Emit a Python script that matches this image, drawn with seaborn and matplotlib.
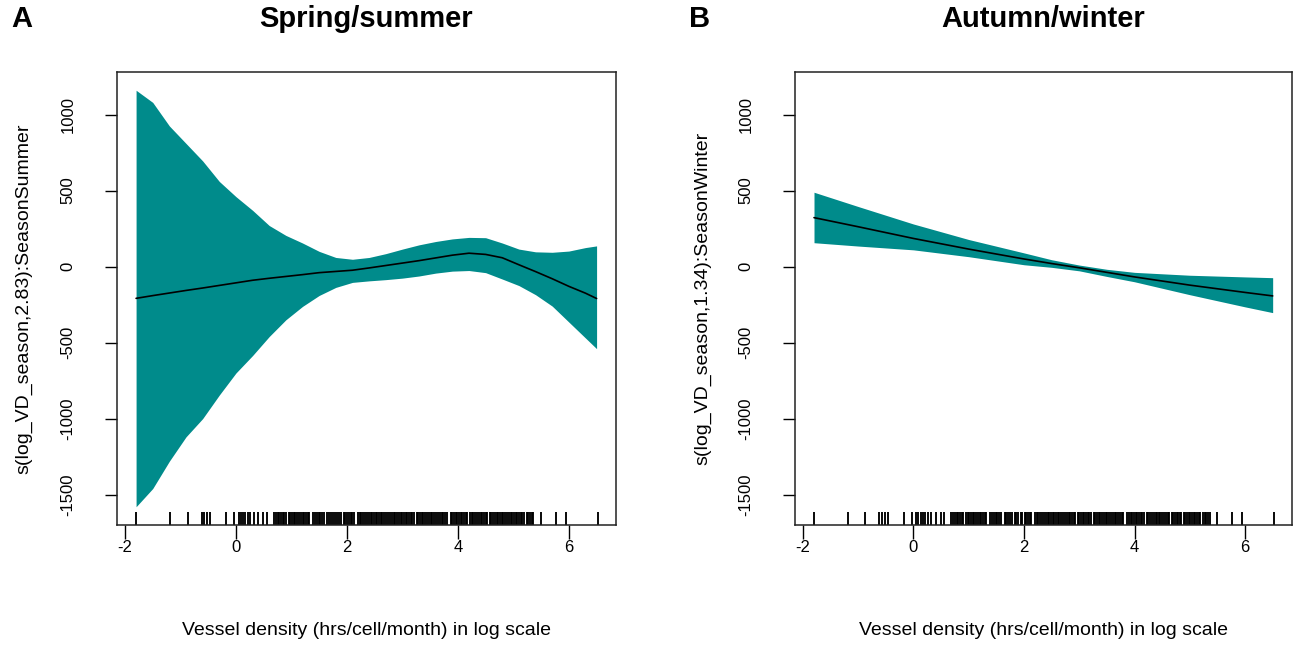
import seaborn as sns
import pandas as pd
import matplotlib.pyplot as plt

# ---------------- data ----------------

# spring/summer smooth (fit and +-2 se band)
x_summer = [-1.8, -1.5, -1.2, -0.9, -0.6, -0.3, 0.0, 0.3, 0.6, 0.9, 1.2, 1.5, 1.8, 2.1, 2.4,
            2.7, 3.0, 3.3, 3.6, 3.9, 4.2, 4.5, 4.8, 5.1, 5.4, 5.7, 6.0, 6.3, 6.5]
fit_summer = [-209, -191, -174, -157, -141, -124, -107, -90, -77, -65, -53, -40, -32, -24, -9,
              7, 23, 39, 57, 75, 88, 80, 58, 12, -33, -80, -130, -175, -210]
upper_summer = [1160, 1080, 925, 810, 695, 560, 460, 370, 270, 205, 155, 100, 60, 48, 60,
                85, 115, 143, 165, 182, 192, 190, 155, 115, 97, 94, 102, 125, 136]
lower_summer = [-1580, -1460, -1280, -1120, -1000, -845, -700, -585, -460, -350, -262, -190, -137, -104, -94,
                -86, -76, -62, -43, -30, -26, -40, -82, -125, -185, -260, -365, -470, -540]

# autumn/winter smooth
x_winter = [-1.8, -1.0, 0.0, 1.0, 2.0, 2.5, 3.0, 3.5, 4.0, 5.0, 6.0, 6.5]
fit_winter = [322, 262, 185, 115, 50, 20, -8, -38, -68, -122, -170, -193]
upper_winter = [489, 395, 280, 178, 90, 45, 10, -18, -38, -57, -68, -73]
lower_winter = [157, 135, 110, 65, 12, -5, -28, -65, -100, -185, -265, -303]

# observed log vessel density (rug)
rug_x = [-1.80, -1.19, -0.87, -0.62, -0.57, -0.52, -0.47, -0.18, -0.03, 0.05, 0.09, 0.13, 0.17,
         0.21, 0.26, 0.32, 0.40, 0.49, 0.56, 0.68, 0.72, 0.75, 0.78, 0.81, 0.84, 0.87, 0.90,
         0.95, 0.98, 1.01, 1.04, 1.07, 1.10, 1.14, 1.17, 1.20, 1.22, 1.26, 1.29, 1.32, 1.38,
         1.43, 1.46, 1.49, 1.52, 1.55, 1.58, 1.65, 1.68, 1.71, 1.75, 1.78, 1.83, 1.86, 1.89,
         1.94, 1.97, 2.01, 2.04, 2.07, 2.10, 2.13, 2.20, 2.23, 2.26, 2.29, 2.32,
         2.37, 2.40, 2.43, 2.46, 2.49, 2.52, 2.55, 2.58, 2.61, 2.64, 2.67, 2.70, 2.74, 2.77,
         2.81, 2.84, 2.87, 2.90, 2.93, 2.97, 3.00, 3.03, 3.06, 3.09, 3.12, 3.15, 3.18, 3.21,
         3.26, 3.29, 3.32, 3.35, 3.38, 3.41, 3.44, 3.48, 3.51, 3.54, 3.57, 3.61, 3.64, 3.67,
         3.71, 3.74, 3.77, 3.80, 3.87, 3.90, 3.93, 3.96, 3.99, 4.02, 4.05, 4.08, 4.11, 4.14,
         4.17, 4.22, 4.25, 4.28, 4.31, 4.35, 4.38, 4.41, 4.44, 4.47, 4.50, 4.53, 4.57, 4.60,
         4.63, 4.67, 4.70, 4.73, 4.76, 4.79, 4.82, 4.85, 4.89, 4.92, 4.95, 4.98, 5.01, 5.04,
         5.07, 5.10, 5.13, 5.16, 5.19, 5.24, 5.27, 5.30, 5.33, 5.36, 5.50, 5.76, 5.95, 6.52]

x_ticks = [-2, 0, 2, 4, 6]
y_ticks = [-1500, -1000, -500, 0, 500, 1000]

panels = [
    ("A", "Spring/summer", "s(log_VD_season,2.83):SeasonSummer",
     x_summer, fit_summer, upper_summer, lower_summer),
    ("B", "Autumn/winter", "s(log_VD_season,1.34):SeasonWinter",
     x_winter, fit_winter, upper_winter, lower_winter),
]

# ---------------- plotting ----------------

sns.set_style("ticks")
plt.rcParams['font.family'] = ['Liberation Sans', 'DejaVu Sans']
plt.rcParams['text.color'] = 'black'
plt.rcParams['axes.labelcolor'] = 'black'

fig = plt.figure(figsize=(12.99, 6.52), dpi=100)
W, H = 1299, 652
boxes = [(117, 616), (795, 1292)]
top_px, bot_px = 72, 525

for (letter, title, ylab, xs, fit, up, lo), (l, r) in zip(panels, boxes):
    ax = fig.add_axes([l / W, 1 - bot_px / H, (r - l) / W, (bot_px - top_px) / H])
    df = pd.DataFrame({"x": xs, "fit": fit, "upper": up, "lower": lo})

    ax.fill_between(df["x"], df["lower"], df["upper"], color="#008B8B", linewidth=0)
    sns.lineplot(data=df, x="x", y="fit", color="black", linewidth=1.2, ax=ax)
    sns.rugplot(x=rug_x, height=0.028, color="black", linewidth=1.35, alpha=1, ax=ax)

    ax.set_xlim(-2.144, 6.85)
    ax.set_ylim(-1700, 1280)
    ax.set_xticks(x_ticks)
    ax.set_yticks(y_ticks)
    ax.set_xticklabels([str(v) for v in x_ticks], fontsize=12)
    ax.set_yticklabels([str(v) for v in y_ticks], fontsize=12, rotation=90, va="center")
    ax.tick_params(axis="x", length=10, width=1, pad=1, colors="black")
    ax.tick_params(axis="y", length=9, width=1, pad=21, colors="black")

    for s in ax.spines.values():
        s.set_visible(True)
        s.set_color("#222222")
        s.set_linewidth(1.1)

    ax.set_xlabel("Vessel density (hrs/cell/month) in log scale", fontsize=14)
    ax.xaxis.set_label_coords(0.5, -0.214)
    ax.set_ylabel(ylab, fontsize=14)
    ax.yaxis.set_label_coords(-0.186, 0.5)
    ax.yaxis.label.set_va("center")

    ax.set_title(title, fontsize=21, fontweight="bold", y=(bot_px - 19) / (bot_px - top_px),
                 va="center", pad=0)
    fig.text((l - 95) / W, 1 - 19 / H, letter, fontsize=21, fontweight="bold",
             ha="center", va="center")

fig.savefig("out.png", dpi=100)
